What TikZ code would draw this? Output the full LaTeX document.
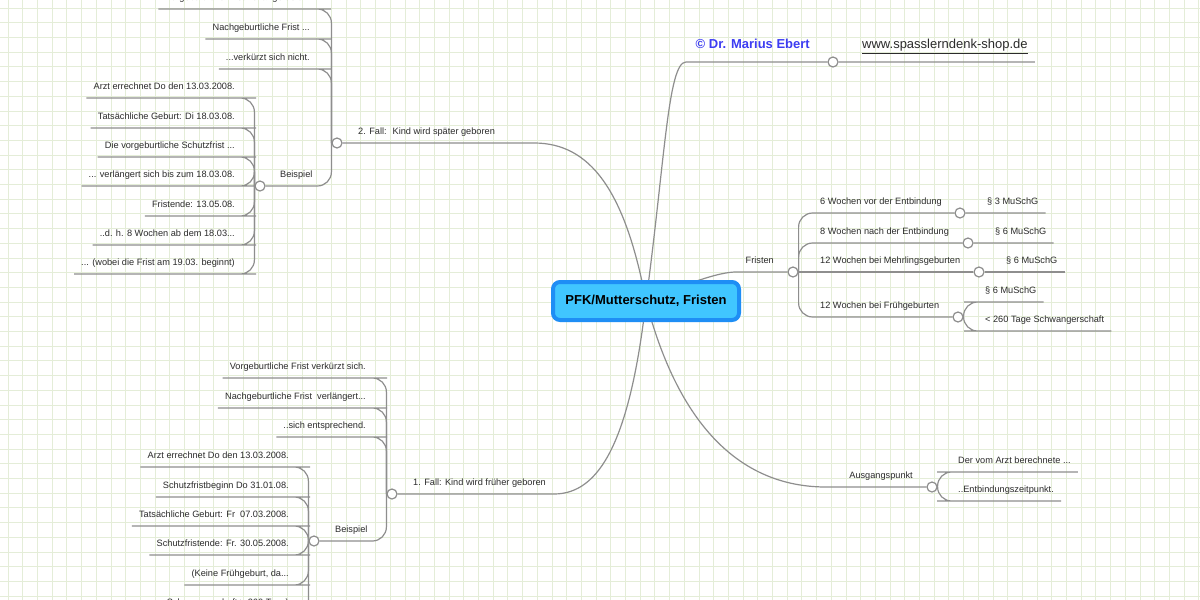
\documentclass[tikz,border=0pt]{standalone}
\usepackage{fontspec}
\setmainfont{Liberation Sans}
\usetikzlibrary{backgrounds}
\definecolor{linec}{HTML}{8E8E8E}
\definecolor{ink}{HTML}{2B2B2B}
\definecolor{gridc}{HTML}{E4EDD8}
\definecolor{rootfill}{HTML}{40C6FF}
\definecolor{rootedge}{HTML}{1E8EF5}
\definecolor{authc}{HTML}{3D3DF2}
\tikzset{
  gridline/.style={draw=gridc, line width=0.8pt},
  branch/.style  ={draw=linec, line width=1.2pt, rounded corners=14pt},
  knob/.style    ={circle, draw=linec, fill=white, line width=1.2pt,
                   minimum size=10pt, inner sep=0pt},
  lbl/.style     ={font=\fontsize{9.2}{11}\selectfont, text=ink, inner xsep=7pt,
                   inner ysep=6pt, text height=6.7pt, text depth=1.9pt},
  lleaf/.style   ={lbl, anchor=south east},
  rleaf/.style   ={lbl, anchor=south west},
  big/.style     ={font=\fontsize{13}{15}\selectfont, inner ysep=10.3pt,
                   text height=9.5pt, text depth=2.7pt},
  topbox/.style  ={draw=rootedge, line width=4pt, fill=rootfill, rounded corners=7pt,
                   minimum width=186pt, minimum height=38pt, text=black,
                   font=\fontsize{13}{15}\selectfont\bfseries},
}
\begin{document}
\begin{tikzpicture}[x=1pt,y=-1pt]
  \useasboundingbox (0,0) rectangle (1200,600);
  \begin{scope}[on background layer]
    \fill[white] (0,0) rectangle (1200,600);
    \foreach \i in {0,...,81} \draw[gridline] ({8+14.7*\i},0) -- ({8+14.7*\i},600);
    \foreach \i in {0,...,40} \draw[gridline] (0,{8+14.7*\i}) -- (1200,{8+14.7*\i});
  \end{scope}

  \node[topbox] (root) at (646,301) {PFK/Mutterschutz, Fristen};

  % knobs
  \node[knob] (kA) at (833,62) {};
  \node[knob] (kF) at (793,272) {};
  \node[knob] (kS) at (932,487) {};
  \node[knob] (k2) at (337,143) {};
  \node[knob] (k1) at (392,494) {};
  \node[knob] (kB2) at (260,186) {};
  \node[knob] (kB1) at (314,541) {};
  \node[knob] (kf1) at (960,213) {};
  \node[knob] (kf2) at (968,243) {};
  \node[knob] (kf3) at (979,272) {};
  \node[knob] (kf4) at (958,317) {};

  % topic labels
  \node[lleaf, big, font=\fontsize{13}{15}\selectfont\bfseries, text=authc] (auth) at (817,62) {© Dr. Marius Ebert};
  \node[rleaf, big] (url) at (855,62) {\underline{www.spasslerndenk-shop.de}};
  \node[lleaf] (frist) at (781,272) {Fristen};
  \node[lleaf] (ausg) at (920,487) {Ausgangspunkt};
  \node[rleaf] (fall2) at (351,143) {2. Fall:~ Kind wird später geboren};
  \node[rleaf] (fall1) at (406,494) {1. Fall: Kind wird früher geboren};
  \node[rleaf] (bsp2) at (273,186) {Beispiel};
  \node[rleaf] (bsp1) at (328,541) {Beispiel};

  % Fristen
  \node[rleaf] (f1) at (813,213) {6 Wochen vor der Entbindung};
  \node[rleaf] (f2) at (813,243) {8 Wochen nach der Entbindung};
  \node[rleaf] (f3) at (813,272) {12 Wochen bei Mehrlingsgeburten};
  \node[rleaf] (f4) at (813,317) {12 Wochen bei Frühgeburten};
  \node[rleaf] (p1) at (980,213) {§ 3 MuSchG};
  \node[rleaf] (p2) at (988,243) {§ 6 MuSchG};
  \node[rleaf] (p3) at (999,272) {§ 6 MuSchG};
  \node[rleaf] (p4) at (978,302) {§ 6 MuSchG};
  \node[rleaf] (p5) at (978,331) {< 260 Tage Schwangerschaft};

  % Ausgangspunkt
  \node[rleaf] (a1) at (951,472) {Der vom Arzt berechnete ...};
  \node[rleaf] (a2) at (951,501) {..Entbindungszeitpunkt.};

  % 2. Fall
  \node[lleaf] (v1) at (317,9) {Vorgeburtliche Frist verlängert sich.};
  \node[lleaf] (v2) at (317,39) {Nachgeburtliche Frist ...};
  \node[lleaf] (v3) at (317,69) {...verkürzt sich nicht.};
  \foreach \y/\txt [count=\i] in {98/{Arzt errechnet Do den 13.03.2008.},
      128/{Tatsächliche Geburt: Di 18.03.08.}, 157/{Die vorgeburtliche Schutzfrist ...},
      186/{... verlängert sich bis zum 18.03.08.}, 216/{Fristende: 13.05.08.},
      245/{..d. h. 8 Wochen ab dem 18.03...}, 274/{... (wobei die Frist am 19.03. beginnt)}}
    \node[lleaf] (s\i) at (242,\y) {\txt};

  % 1. Fall
  \node[lleaf] (w1) at (373,378) {Vorgeburtliche Frist verkürzt sich.};
  \node[lleaf] (w2) at (373,408) {Nachgeburtliche Frist~ verlängert...};
  \node[lleaf] (w3) at (373,437) {..sich entsprechend.};
  \foreach \y/\txt [count=\i] in {467/{Arzt errechnet Do den 13.03.2008.},
      497/{Schutzfristbeginn Do 31.01.08.}, 526/{Tatsächliche Geburt: Fr~ 07.03.2008.},
      555/{Schutzfristende: Fr. 30.05.2008.}, 585/{(Keine Frühgeburt, da...},
      614/{Schwangerschaft > 260 Tage)}}
    \node[lleaf] (t\i) at (296,\y) {\txt};

  \begin{scope}[on background layer]
    % main branches
    \draw[branch] (root.center) .. controls (665,160) and (668,62) .. (700,62) -- (kA) -- (url.south east);
    \draw[branch] (root.center) .. controls (690,282) and (720,272) .. (750,272) -- (kF);
    \draw[branch] (root.center) .. controls (625,190) and (590,143) .. (520,143) -- (k2);
    \draw[branch] (root.center) .. controls (630,440) and (600,494) .. (540,494) -- (k1);
    \draw[branch] (root.center) .. controls (685,450) and (760,487) .. (840,487) -- (kS);
    % right side
    \draw[branch] (kF.east) |- (kf1) -- (p1.south east);
    \draw[branch] (kF.east) |- (kf2) -- (p2.south east);
    \draw[branch] (kF) -- (kf3) -- (p3.south east);
    \draw[branch] (kF.east) |- (kf4);
    \draw[branch] (kf4.east) |- (p4.south west) -- (p4.south east);
    \draw[branch] (kf4.east) |- (p5.south west) -- (p5.south east);
    \draw[branch] (kS.east) |- (a1.south west) -- (a1.south east);
    \draw[branch] (kS.east) |- (a2.south west) -- (a2.south east);
    % left side
    \foreach \n in {v1,v2,v3} \draw[branch] (k2.west) |- (\n.south east) -- (\n.south west);
    \draw[branch] (k2.west) |- (kB2);
    \foreach \i in {1,...,7} \draw[branch] (kB2.west) |- (s\i.south east) -- (s\i.south west);
    \foreach \n in {w1,w2,w3} \draw[branch] (k1.west) |- (\n.south east) -- (\n.south west);
    \draw[branch] (k1.west) |- (kB1);
    \foreach \i in {1,...,6} \draw[branch] (kB1.west) |- (t\i.south east) -- (t\i.south west);
  \end{scope}
\end{tikzpicture}
\end{document}
